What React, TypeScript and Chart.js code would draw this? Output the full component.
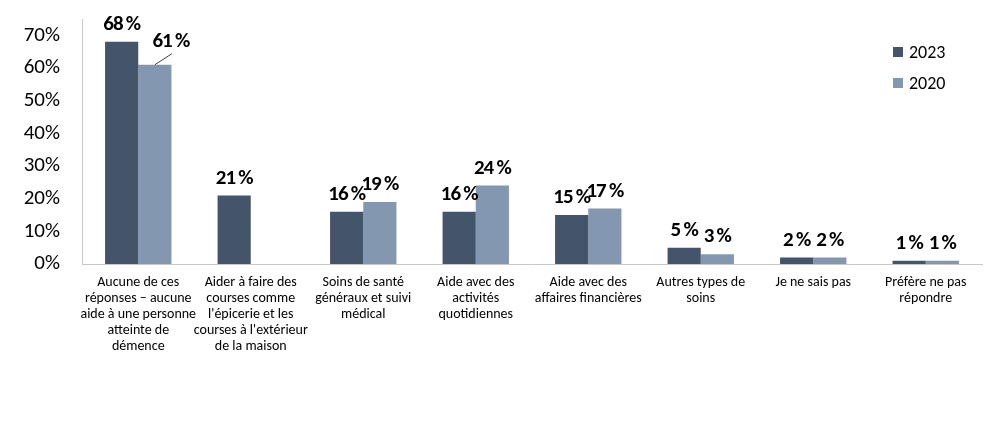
import React, { useEffect, useRef } from "react";
import { Chart, registerables } from "chart.js";

Chart.register(...registerables);

const categories: string[][] = [
  ["Aucune de ces", "réponses – aucune", "aide à une personne", "atteinte de", "démence"],
  ["Aider à faire des", "courses comme", "l'épicerie et les", "courses à l'extérieur", "de la maison"],
  ["Soins de santé", "généraux et suivi", "médical"],
  ["Aide avec des", "activités", "quotidiennes"],
  ["Aide avec des", "affaires financières"],
  ["Autres types de", "soins"],
  ["Je ne sais pas"],
  ["Préfère ne pas", "répondre"],
];

const series2023: (number | null)[] = [68, 21, 16, 16, 15, 5, 2, 1];
const series2020: (number | null)[] = [61, null, 19, 24, 17, 3, 2, 1];
const yTicks: number[] = [0, 10, 20, 30, 40, 50, 60, 70];
const seriesNames: string[] = ["2023", "2020"];

const DARK = "#44546A";
const LIGHT = "#8497B0";
const FONT = "Carlito, Lato, 'Liberation Sans', sans-serif";

const labelPlugin = {
  id: "valueLabels",
  afterDatasetsDraw(chart: any) {
    const ctx = chart.ctx;
    ctx.save();
    ctx.font = `bold 21px ${FONT}`;
    try {
      (ctx as any).letterSpacing = "-1px";
    } catch (e) {}
    ctx.fillStyle = "#000";
    ctx.textAlign = "center";
    ctx.textBaseline = "middle";
    chart.data.datasets.forEach((ds: any, di: number) => {
      const meta = chart.getDatasetMeta(di);
      meta.data.forEach((bar: any, i: number) => {
        const v = ds.data[i];
        if (v === null || v === undefined) return;
        const text = `${v}\u2009%`;
        if (di === 1 && i === 0) {
          ctx.strokeStyle = "#404040";
          ctx.lineWidth = 1;
          ctx.beginPath();
          ctx.moveTo(bar.x, bar.y);
          ctx.lineTo(bar.x + 17, bar.y - 11);
          ctx.stroke();
          ctx.fillText(text, bar.x + 16, bar.y - 23);
        } else {
          ctx.fillText(text, bar.x, bar.y - 17);
        }
      });
    });
    ctx.restore();
  },
};

const legendPlugin = {
  id: "customLegend",
  afterDraw(chart: any) {
    const ctx = chart.ctx;
    ctx.save();
    ctx.font = `18px ${FONT}`;
    ctx.textAlign = "left";
    ctx.textBaseline = "middle";
    const items = [
      { name: seriesNames[0], color: DARK, y: 52 },
      { name: seriesNames[1], color: LIGHT, y: 83 },
    ];
    items.forEach((it) => {
      ctx.fillStyle = it.color;
      ctx.fillRect(893, it.y - 5, 10, 10);
      ctx.fillStyle = "#000";
      ctx.fillText(it.name, 909, it.y + 1);
    });
    ctx.restore();
  },
};

export default function App() {
  const ref = useRef<HTMLCanvasElement>(null);
  useEffect(() => {
    document.body.style.margin = "0";
    if (!ref.current) return;
    const chart = new Chart(ref.current, {
      type: "bar",
      data: {
        labels: categories,
        datasets: [
          { label: seriesNames[0], data: series2023, backgroundColor: DARK },
          { label: seriesNames[1], data: series2020, backgroundColor: LIGHT },
        ],
      },
      options: {
        animation: false,
        responsive: false,
        layout: { padding: { top: 19, right: 18, left: 0, bottom: 0 } },
        plugins: { legend: { display: false }, tooltip: { enabled: false } },
        datasets: { bar: { categoryPercentage: 0.59, barPercentage: 1 } },
        scales: {
          x: {
            grid: { display: false },
            border: { display: true, color: "#c8c8c8", width: 1 },
            ticks: {
              color: "#000",
              font: { family: FONT, size: 14, lineHeight: 1.15 },
              padding: 2,
              maxRotation: 0,
              autoSkip: false,
            },
            afterFit: (s: any) => {
              s.height = 183;
              s.paddingLeft = 0;
              s.paddingRight = 0;
            },
          },
          y: {
            min: 0,
            max: 75,
            grid: { display: false },
            border: { display: true, color: "#c8c8c8", width: 1 },
            afterBuildTicks: (s: any) => {
              s.ticks = yTicks.map((v) => ({ value: v }));
            },
            ticks: {
              color: "#000",
              font: { family: FONT, size: 21 },
              padding: 14,
              callback: (v: any) => `${v}%`,
            },
            afterFit: (s: any) => {
              s.width = 82;
              s.paddingTop = 0;
              s.paddingBottom = 0;
            },
          },
        },
      },
      plugins: [labelPlugin, legendPlugin],
    });
    return () => chart.destroy();
  }, []);
  return (
    <div style={{ width: 1000, height: 447 }}>
      <canvas ref={ref} width={1000} height={447} style={{ display: "block" }} />
    </div>
  );
}
